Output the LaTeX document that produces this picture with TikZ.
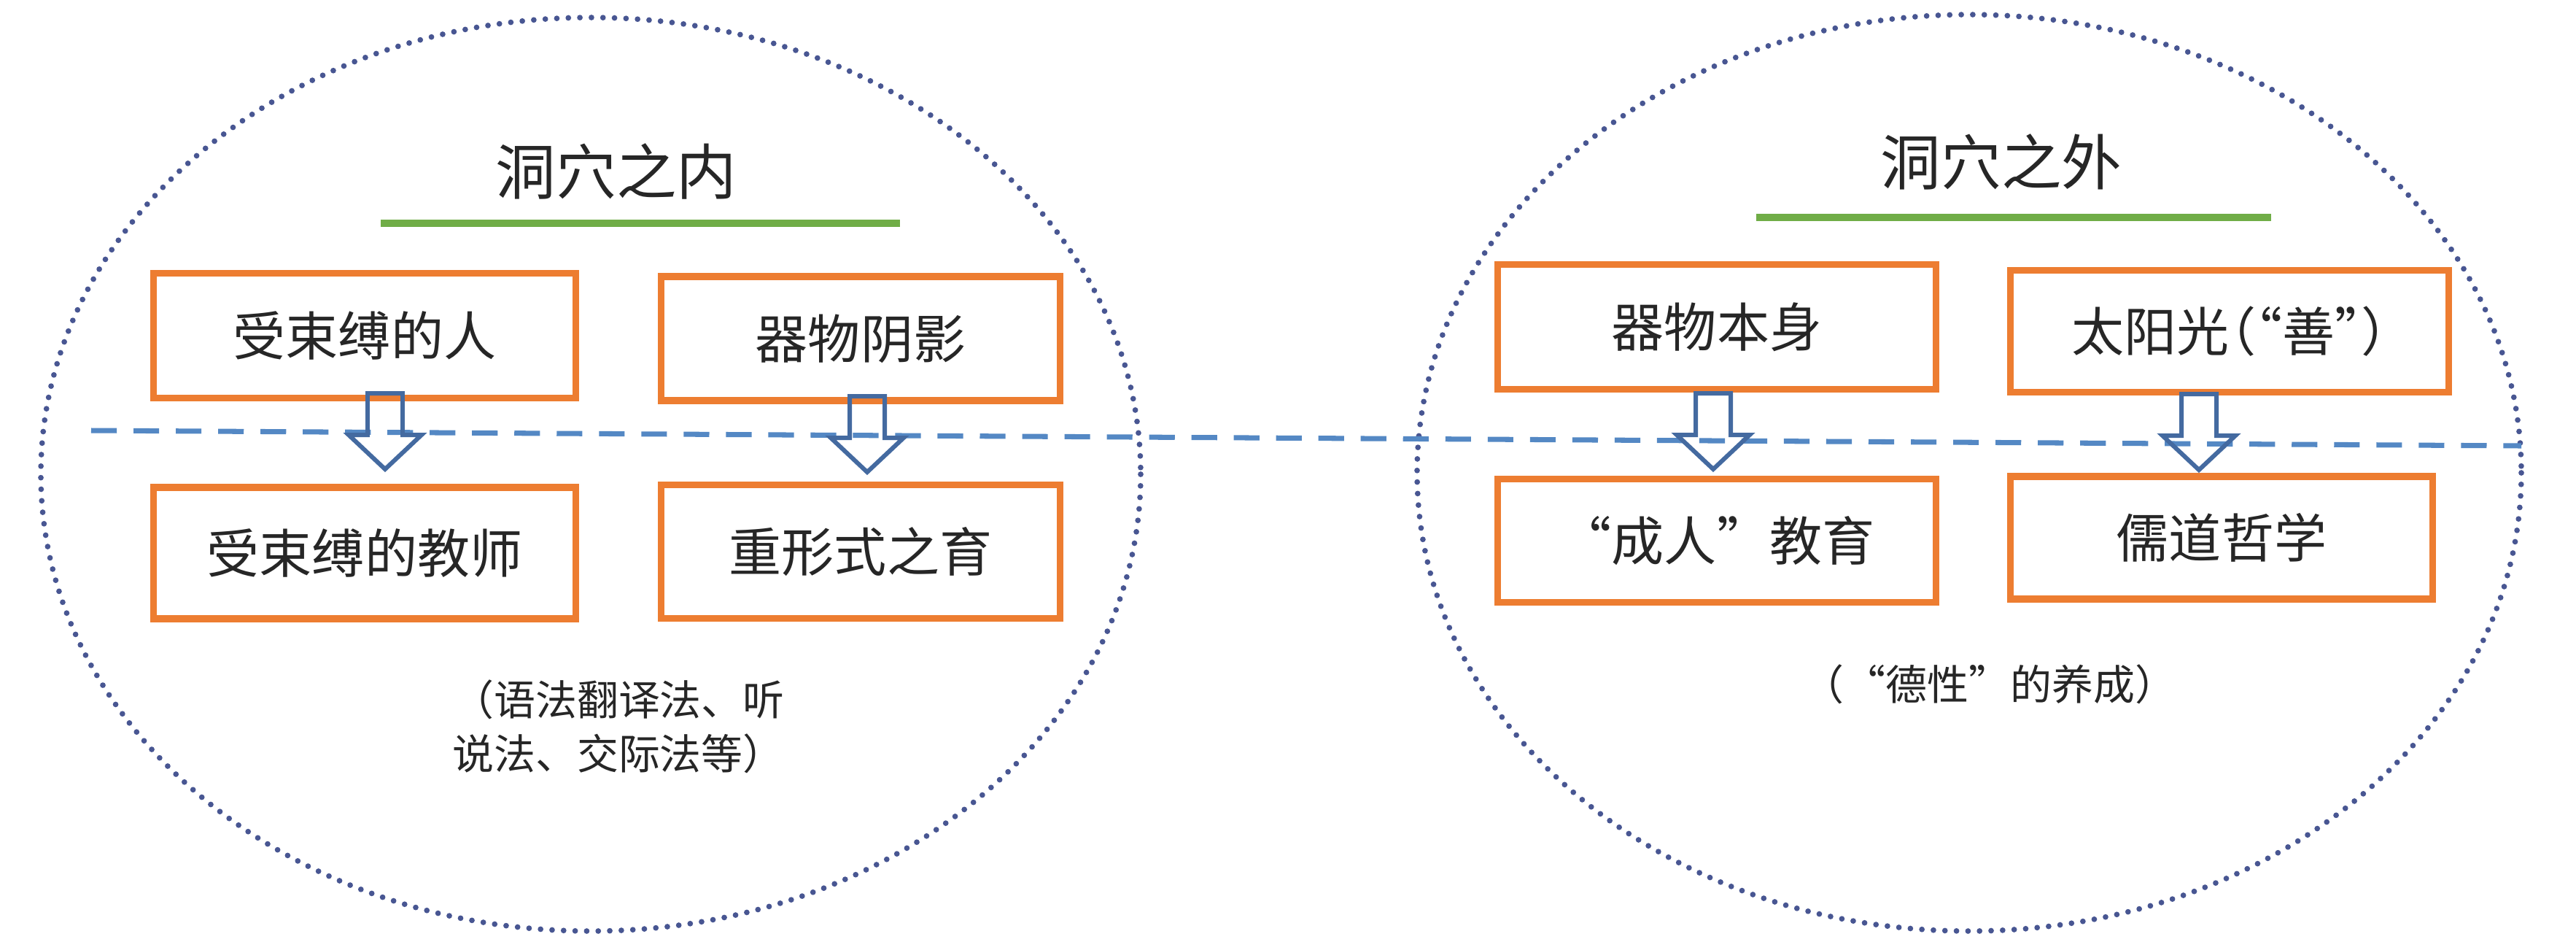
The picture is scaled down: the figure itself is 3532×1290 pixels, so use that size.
\documentclass[tikz,border=0pt]{standalone}
\usepackage{fontspec}
\newfontfamily\cjk{Noto Sans CJK SC}
\definecolor{boxorange}{RGB}{237,125,49}
\definecolor{titlegreen}{RGB}{112,173,71}
\definecolor{dotblue}{RGB}{72,86,146}
\definecolor{dashblue}{RGB}{84,136,196}
\definecolor{arrowblue}{RGB}{68,106,160}
\newcommand{\halfpunct}[1]{{\addfontfeatures{RawFeature=+halt}#1}}
\tikzset{
  stepbox/.style={draw=boxorange, line width=2.6pt, inner sep=0pt, font=\cjk\fontsize{20.5pt}{24pt}\selectfont, text=black!85},
  titletext/.style={font=\cjk\fontsize{23.5pt}{28pt}\selectfont, text=black!85, inner sep=0pt},
  notetext/.style={font=\cjk\fontsize{16.2pt}{21pt}\selectfont, text=black!85, inner sep=0pt, align=center},
  greenline/.style={draw=titlegreen, line width=2.8pt},
  caveellipse/.style={draw=dotblue, line width=2.2pt, line cap=round, dash pattern=on 0pt off 4.5pt},
  dividerline/.style={draw=dashblue, line width=2pt, dash pattern=on 10pt off 6.5pt},
  arrowline/.style={draw=arrowblue, line width=1.7pt, line join=miter},
  dnarrow/.pic={\draw[arrowline] (-24,0) -- (-24,57) -- (-50,57) -- (0,104) -- (50,57) -- (24,57) -- (24,0) -- cycle;}
}
\begin{document}
\begin{tikzpicture}[x=0.01cm, y=-0.01cm]
\useasboundingbox (0,0) rectangle (3532,1290);
\fill[white] (0,0) rectangle (3532,1290);

% ellipses
\draw[caveellipse] (810,650) ellipse [x radius=754, y radius=626];
\draw[caveellipse] (2700,648) ellipse [x radius=757, y radius=628];

% divider
\coordinate (dl) at (125,590);
\coordinate (dr) at (3457,611);
\draw[dividerline] (dl) -- (dr);

% titles
\node[titletext] (t1) at (845,235) {洞穴之内};
\draw[greenline] (522,306) -- (1234,306);
\node[titletext] (t2) at (2744,222) {洞穴之外};
\draw[greenline] (2408,298) -- (3114,298);

% left boxes
\node[stepbox, minimum width=5.78cm, minimum height=1.71cm] (b1) at (500,460) {受束缚的人};
\node[stepbox, minimum width=5.47cm, minimum height=1.70cm] (b2) at (1180,464) {器物阴影};
\node[stepbox, minimum width=5.78cm, minimum height=1.80cm] (b3) at (500,758) {受束缚的教师};
\node[stepbox, minimum width=5.47cm, minimum height=1.83cm] (b4) at (1180,756) {重形式之育};

% right boxes
\node[stepbox, minimum width=6.00cm, minimum height=1.71cm] (bA) at (2354,448) {器物本身};
\node[stepbox, minimum width=6.00cm, minimum height=1.67cm] (bB) at (3057,454) {太阳光\halfpunct{（“}善\halfpunct{”）}};
\node[stepbox, minimum width=6.00cm, minimum height=1.69cm] (bC) at (2354,741) {“成人”教育};
\node[stepbox, minimum width=5.78cm, minimum height=1.68cm] (bD) at (3046,737) {儒道哲学};

% block arrows
\pic at (528,539) {dnarrow};
\pic at (1189,543) {dnarrow};
\pic at (2349,539) {dnarrow};
\pic at (3015,540) {dnarrow};

% notes
\node[notetext] (n1) at (848,996) {（语法翻译法、听\\说法、交际法等）};
\node[notetext] (n2) at (2728,938) {（“德性”的养成）};
\end{tikzpicture}
\end{document}
